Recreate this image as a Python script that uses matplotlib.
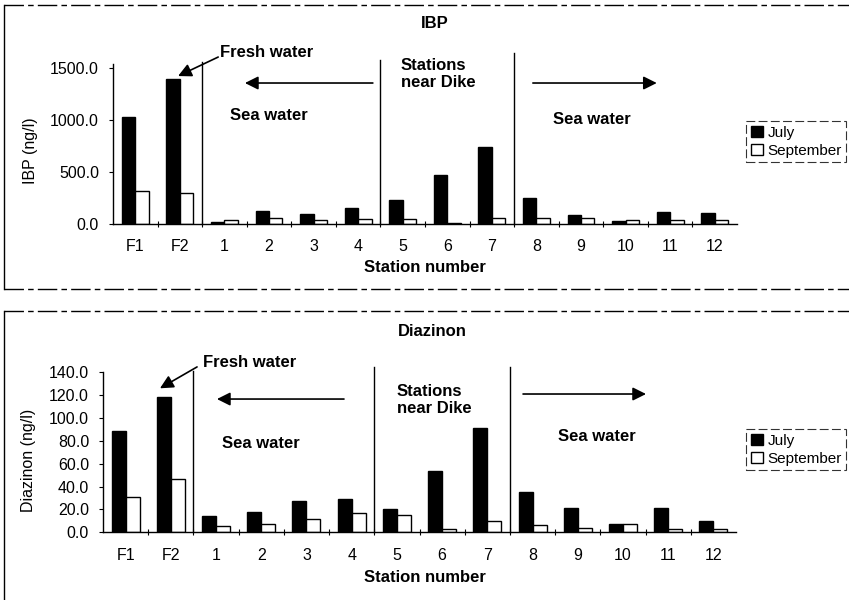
import numpy as np
import matplotlib
matplotlib.use('Agg')
import matplotlib.pyplot as plt
from matplotlib.lines import Line2D

plt.rcParams['font.family'] = ['Liberation Sans', 'DejaVu Sans']

# station labels
stations = ['F1', 'F2', '1', '2', '3', '4', '5', '6', '7', '8', '9', '10', '11', '12']

# IBP (ng/l)
ibp_july = [1030, 1400, 15, 125, 95, 155, 230, 470, 740, 255, 85, 25, 120, 110]
ibp_sept = [320, 300, 40, 55, 35, 45, 45, 5, 60, 60, 60, 40, 40, 40]

# Diazinon (ng/l)
dia_july = [89, 118, 14, 18, 27, 29.5, 20.7, 53.4, 91, 35.6, 21.3, 7, 21.3, 10]
dia_sept = [31, 47, 5.5, 7, 12, 17, 15, 3.2, 10, 6.7, 3.5, 7.6, 2.6, 2.6]

ibp_ticks = [0, 500, 1000, 1500]
dia_ticks = [0, 20, 40, 60, 80, 100, 120, 140]

W, H = 849, 600
fig = plt.figure(figsize=(W / 100, H / 100), dpi=100)


def fx(px):
    return px / W


def fy(py):
    return 1 - py / H


def draw_panel(rect, july, sept, ticks, ylim, bw, divs, ylabel):
    ax = fig.add_axes(rect)
    x = np.arange(len(stations))
    ax.bar(x - bw / 2, july, bw, color='black', edgecolor='black', lw=1, label='July')
    ax.bar(x + bw / 2, sept, bw, color='white', edgecolor='black', lw=1, label='September')
    ax.set_xlim(-0.5, len(stations) - 0.5)
    ax.set_ylim(0, ylim)
    ax.set_xticks(x)
    ax.set_xticklabels(stations, fontsize=11.5)
    ax.set_xticks(np.arange(0.5, len(stations) - 1, 1), minor=True)
    ax.tick_params(axis='x', which='major', length=0, pad=11)
    ax.tick_params(axis='x', which='minor', length=4, direction='inout', width=0.8)
    ax.set_yticks(ticks)
    ax.set_yticklabels(['%.1f' % t for t in ticks], fontsize=11.5)
    ax.tick_params(axis='y', length=3, width=0.8, pad=7)
    for s in ['top', 'right']:
        ax.spines[s].set_visible(False)
    for s in ['left', 'bottom']:
        ax.spines[s].set_linewidth(1)
    for xd, top in divs:
        ax.plot([xd, xd], [0, top], color='black', lw=1, clip_on=False)
    return ax


# ---------------- top panel: IBP ----------------
ax1 = draw_panel([fx(113), fy(224), fx(737) - fx(113), 160 / H],
                 ibp_july, ibp_sept, ibp_ticks, 1540, 0.3,
                 [(1.5, 1559), (5.5, 1578), (8.5, 1646)], 'IBP (ng/l)')

arrow = dict(arrowstyle='-|>', mutation_scale=20, lw=1.2, color='black', shrinkA=0, shrinkB=0)
bold = dict(fontsize=12, fontweight='bold')
ax1.annotate('', xy=(0.96, 1424), xytext=(1.86, 1607), arrowprops=arrow, annotation_clip=False)
ax1.text(1.9, 1655, 'Fresh water', va='center', ha='left', **bold)
ax1.annotate('', xy=(2.46, 1357), xytext=(5.33, 1357), arrowprops=arrow)
ax1.annotate('', xy=(11.7, 1357), xytext=(8.92, 1357), arrowprops=arrow)
ax1.text(2.13, 1040, 'Sea water', va='center', ha='left', **bold)
ax1.text(5.96, 1444, 'Stations\nnear Dike', va='center', ha='left', linespacing=1.15, **bold)
ax1.text(9.37, 1001, 'Sea water', va='center', ha='left', **bold)

fig.text(fx(435), fy(23), 'IBP', ha='center', va='center', **bold)
fig.text(fx(30), fy(151), 'IBP (ng/l)', rotation=90, ha='center', va='center', fontsize=11.5)
fig.text(fx(425), fy(268), 'Station number', ha='center', va='center', **bold)

leg1 = ax1.legend(loc='upper left', bbox_to_anchor=(fx(746), fy(121)),
                  bbox_transform=fig.transFigure, fontsize=11, handlelength=0.8,
                  handleheight=0.8, handletextpad=0.3, labelspacing=0.25,
                  borderpad=0.3, borderaxespad=0, fancybox=False, frameon=True)
leg1.get_frame().set_edgecolor('black')
leg1.get_frame().set_linestyle((0, (8, 3)))
leg1.get_frame().set_linewidth(0.8)

# ---------------- bottom panel: Diazinon ----------------
ax2 = draw_panel([fx(103), fy(532.3), fx(736) - fx(103), 160 / H],
                 dia_july, dia_sept, dia_ticks, 140, 0.31,
                 [(1.5, 141), (5.5, 144.6), (8.5, 144.6)], 'Diazinon (ng/l)')

ax2.annotate('', xy=(0.76, 126), xytext=(1.58, 144.7), arrowprops=arrow, annotation_clip=False)
ax2.text(1.71, 149, 'Fresh water', va='center', ha='left', **bold)
ax2.annotate('', xy=(2.02, 116.6), xytext=(4.83, 116.6), arrowprops=arrow)
ax2.annotate('', xy=(11.51, 121), xytext=(8.79, 121), arrowprops=arrow)
ax2.text(2.13, 78, 'Sea water', va='center', ha='left', **bold)
ax2.text(6.0, 115.8, 'Stations\nnear Dike', va='center', ha='left', linespacing=1.15, **bold)
ax2.text(9.56, 83.4, 'Sea water', va='center', ha='left', **bold)

fig.text(fx(432), fy(331), 'Diazinon', ha='center', va='center', **bold)
fig.text(fx(28), fy(460), 'Diazinon (ng/l)', rotation=90, ha='center', va='center', fontsize=11.5)
fig.text(fx(425), fy(577), 'Station number', ha='center', va='center', **bold)

leg2 = ax2.legend(loc='upper left', bbox_to_anchor=(fx(746), fy(429)),
                  bbox_transform=fig.transFigure, fontsize=11, handlelength=0.8,
                  handleheight=0.8, handletextpad=0.3, labelspacing=0.25,
                  borderpad=0.3, borderaxespad=0, fancybox=False, frameon=True)
leg2.get_frame().set_edgecolor('black')
leg2.get_frame().set_linestyle((0, (8, 3)))
leg2.get_frame().set_linewidth(0.8)

# panel frames (scanned look: solid left, dashed top/bottom)
dash = (0, (14, 3, 4, 3))
fig.add_artist(Line2D([fx(4), fx(4)], [fy(5), fy(289)], color='black', lw=1, transform=fig.transFigure))
fig.add_artist(Line2D([fx(4), 1], [fy(5), fy(5)], color='black', lw=1, ls=dash, transform=fig.transFigure))
fig.add_artist(Line2D([fx(4), 1], [fy(289), fy(289)], color='black', lw=1, ls=dash, transform=fig.transFigure))
fig.add_artist(Line2D([fx(4), fx(4)], [fy(311), 0], color='black', lw=1, transform=fig.transFigure))
fig.add_artist(Line2D([fx(4), 1], [fy(311), fy(311)], color='black', lw=1, ls=dash, transform=fig.transFigure))

fig.savefig('out.png', dpi=100)
